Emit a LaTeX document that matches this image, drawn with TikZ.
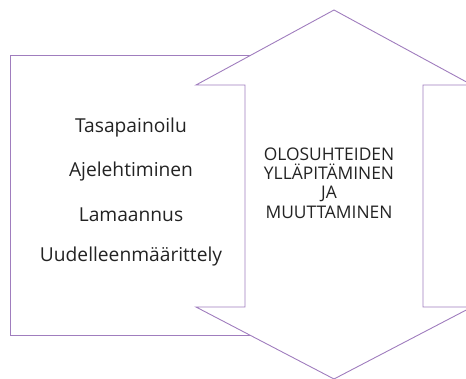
\documentclass[tikz,border=0pt]{standalone}
\usepackage{fontspec}
\setmainfont{Open Sans}
\definecolor{lav}{RGB}{160,125,190}
\definecolor{txt}{RGB}{35,35,35}
\begin{document}
\begin{tikzpicture}[x=1pt,y=-1pt,
  outline/.style={draw=lav,line width=0.9pt},
  lefttext/.style={font=\fontsize{19.2}{22}\selectfont,text=txt,anchor=center},
  righttext/.style={font=\fontsize{17.4}{19.4}\selectfont,text=txt,align=center,anchor=center}]
\useasboundingbox (0,0) rectangle (466,379);
\begin{scope}
\clip (0,0) rectangle (466,379);
% left box
\draw[outline] (260,55) -- (10,55) -- (10,335.5) -- (260,335.5);
% double arrow
\draw[outline,fill=white] (334,10) -- (472,85) -- (423,85) -- (423,307) -- (472,307)
  -- (334,379) -- (196,307) -- (245,307) -- (245,85) -- (196,85) -- cycle;
\end{scope}
\node[lefttext] (t1) at (131,128) {Tasapainoilu};
\node[lefttext] (t2) at (131,172) {Ajelehtiminen};
\node[lefttext] (t3) at (131,215) {Lamaannus};
\node[lefttext] (t4) at (131,257) {Uudelleenmäärittely};
\node[righttext] (r) at (329,183) {OLOSUHTEIDEN\\YLLÄPITÄMINEN\\JA\\MUUTTAMINEN};
\end{tikzpicture}
\end{document}
